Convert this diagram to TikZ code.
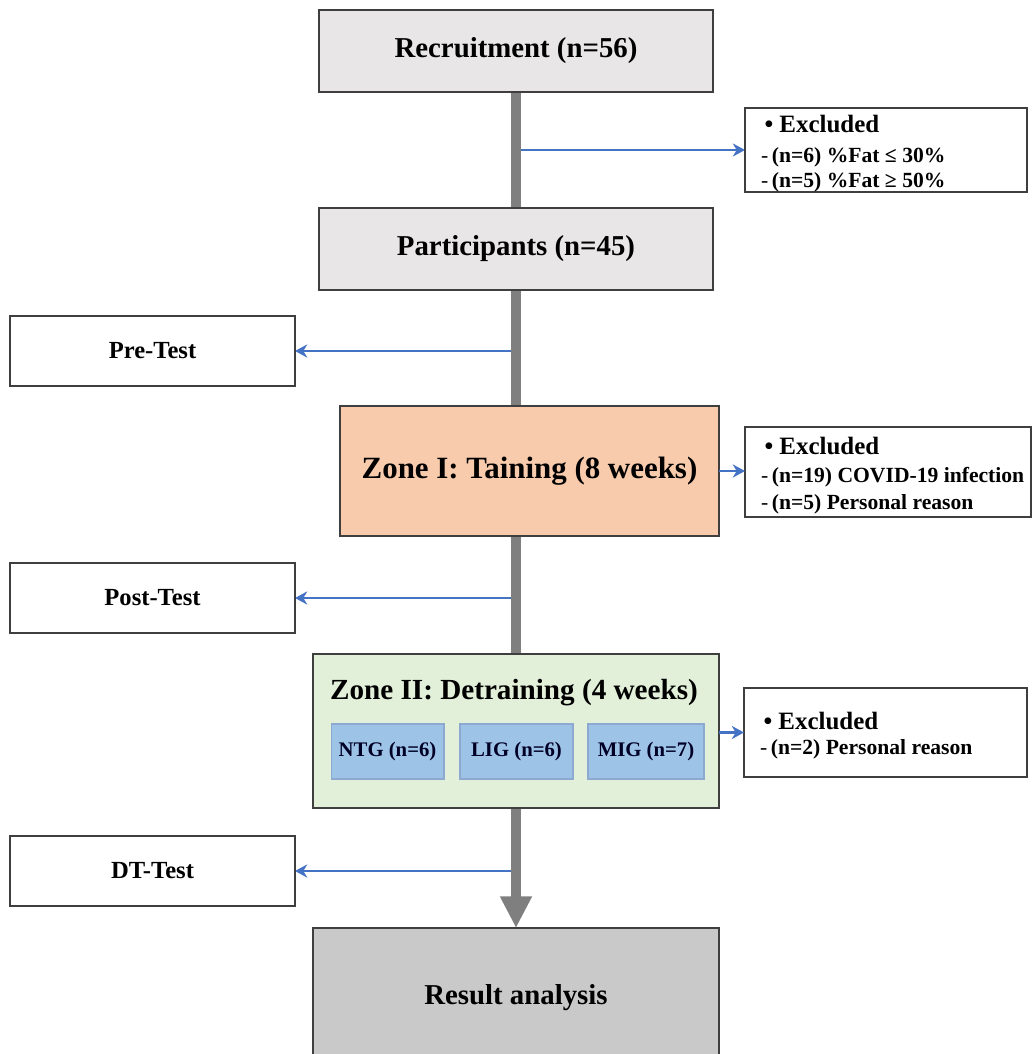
\documentclass[tikz,border=0pt]{standalone}
\usepackage{fontspec}
\setmainfont{Liberation Serif}
\usetikzlibrary{positioning}
\usetikzlibrary{arrows.meta}
\usetikzlibrary{backgrounds}

\definecolor{edgegray}{HTML}{3F3F3F}
\definecolor{stagegray}{HTML}{E8E6E6}
\definecolor{resultgray}{HTML}{C9C9C9}
\definecolor{zoneonefill}{HTML}{F8CBAD}
\definecolor{zonetwofill}{HTML}{E2F0D9}
\definecolor{groupfill}{HTML}{9DC3E6}
\definecolor{groupedge}{HTML}{8EA9D0}
\definecolor{spinegray}{HTML}{7F7F7F}
\definecolor{arrowblue}{HTML}{4472C4}

\tikzset{
    stage/.style={draw=edgegray,line width=1pt,fill=stagegray,inner sep=0pt,outer sep=0pt,
        minimum width=7.88cm,minimum height=1.64cm,font=\bfseries\fontsize{16.4}{19}\selectfont},
    testbox/.style={draw=edgegray,line width=1pt,fill=white,inner sep=0pt,outer sep=0pt,
        minimum width=5.7cm,minimum height=1.4cm,font=\bfseries\fontsize{14}{16}\selectfont},
    exclbox/.style={draw=edgegray,line width=1pt,fill=white,inner xsep=0.32cm,inner ysep=0pt,outer sep=0pt,
        align=flush left,font=\bfseries\fontsize{12.3}{14.2}\selectfont},
    groupbox/.style={draw=groupedge,line width=0.6pt,fill=groupfill,inner sep=0pt,outer sep=0pt,
        minimum height=1.1cm,font=\bfseries\fontsize{11.8}{14}\selectfont,text=black!85!blue},
    spine/.style={draw=spinegray,line width=5.6pt,-{Triangle[length=18pt,width=17pt]}},
    sidearrow/.style={draw=arrowblue,line width=1.6pt,-{Stealth[length=7pt,width=7.5pt]}},
}
\newcommand{\exclhead}{\rule{0pt}{13.9pt}\hspace*{2pt}{\fontsize{14.2}{14.2}\selectfont\textbullet\ Excluded}}
\newcommand{\exclitem}[1]{\mbox{{\mdseries-}\,#1}}

\begin{document}
\begin{tikzpicture}[x=0.02cm,y=-0.02cm]
    \useasboundingbox (0,0) rectangle (1032,1054);

    % main column
    \node (recruit) [stage] at (516,51)  {Recruitment (n=56)};
    \node (parts)   [stage] at (516,249) {Participants (n=45)};
    \node (zone1)   [stage,fill=zoneonefill,minimum width=7.58cm,minimum height=2.6cm,
                     font=\bfseries\fontsize{17.6}{20}\selectfont] at (529.5,471) {Zone I: Taining (8 weeks)};
    \node (zone2)   [stage,fill=zonetwofill,minimum width=8.12cm,minimum height=3.08cm] at (516,731) {};
    \node (ztitle)  [font=\bfseries\fontsize{16.6}{19}\selectfont] at (514,693) {Zone II: Detraining (4 weeks)};
    \node (result)  [stage,fill=resultgray,minimum width=8.12cm,minimum height=2.64cm,
                     text depth=0pt] at (516,994) {Result analysis};

    % groups inside zone II
    \node (lig) [groupbox,minimum width=2.26cm] at (516.5,751.5) {LIG (n=6)};
    \node (ntg) [groupbox,minimum width=2.26cm,left=0.32cm of lig]  {NTG (n=6)};
    \node (mig) [groupbox,minimum width=2.32cm,right=0.3cm of lig] {MIG (n=7)};

    % tests on the left
    \node (pre)  [testbox] at (152.5,351) {Pre-Test};
    \node (post) [testbox] at (152.5,598) {Post-Test};
    \node (dt)   [testbox] at (152.5,871) {DT-Test};

    % exclusions on the right
    \node (excl1) [exclbox,text width=5.0cm,minimum height=1.68cm] at (886,150)
        {\exclhead\\[2.8pt]\exclitem{(n=6) \%Fat ≤ 30\%}\\\exclitem{(n=5) \%Fat ≥ 50\%}};
    \node (excl2) [exclbox,text width=5.08cm,minimum height=1.8cm] at (888,472)
        {\exclhead\\[1.7pt]\exclitem{(n=19) COVID-19 infection}\\[1.1pt]\exclitem{(n=5) Personal reason}};
    \node (excl3) [exclbox,text width=5.02cm,minimum height=1.78cm] at (885.5,732.5)
        {\exclhead\\\exclitem{(n=2) Personal reason}};

    \begin{pgfonlayer}{background}
        \draw[sidearrow,line width=0.8pt] (recruit.south |- excl1.west) -- (excl1.west);
        \draw[sidearrow] (recruit.south |- pre.east)  -- (pre.east);
        \draw[sidearrow] (recruit.south |- post.east) -- (post.east);
        \draw[sidearrow] (recruit.south |- dt.east)   -- (dt.east);
        \draw[spine] (recruit.south) -- (result.north);
    \end{pgfonlayer}

    \draw[sidearrow] (zone1.east) -- (zone1.east -| excl2.west);
    \draw[sidearrow] (excl3.west -| zone2.east) -- (excl3.west);
\end{tikzpicture}
\end{document}
